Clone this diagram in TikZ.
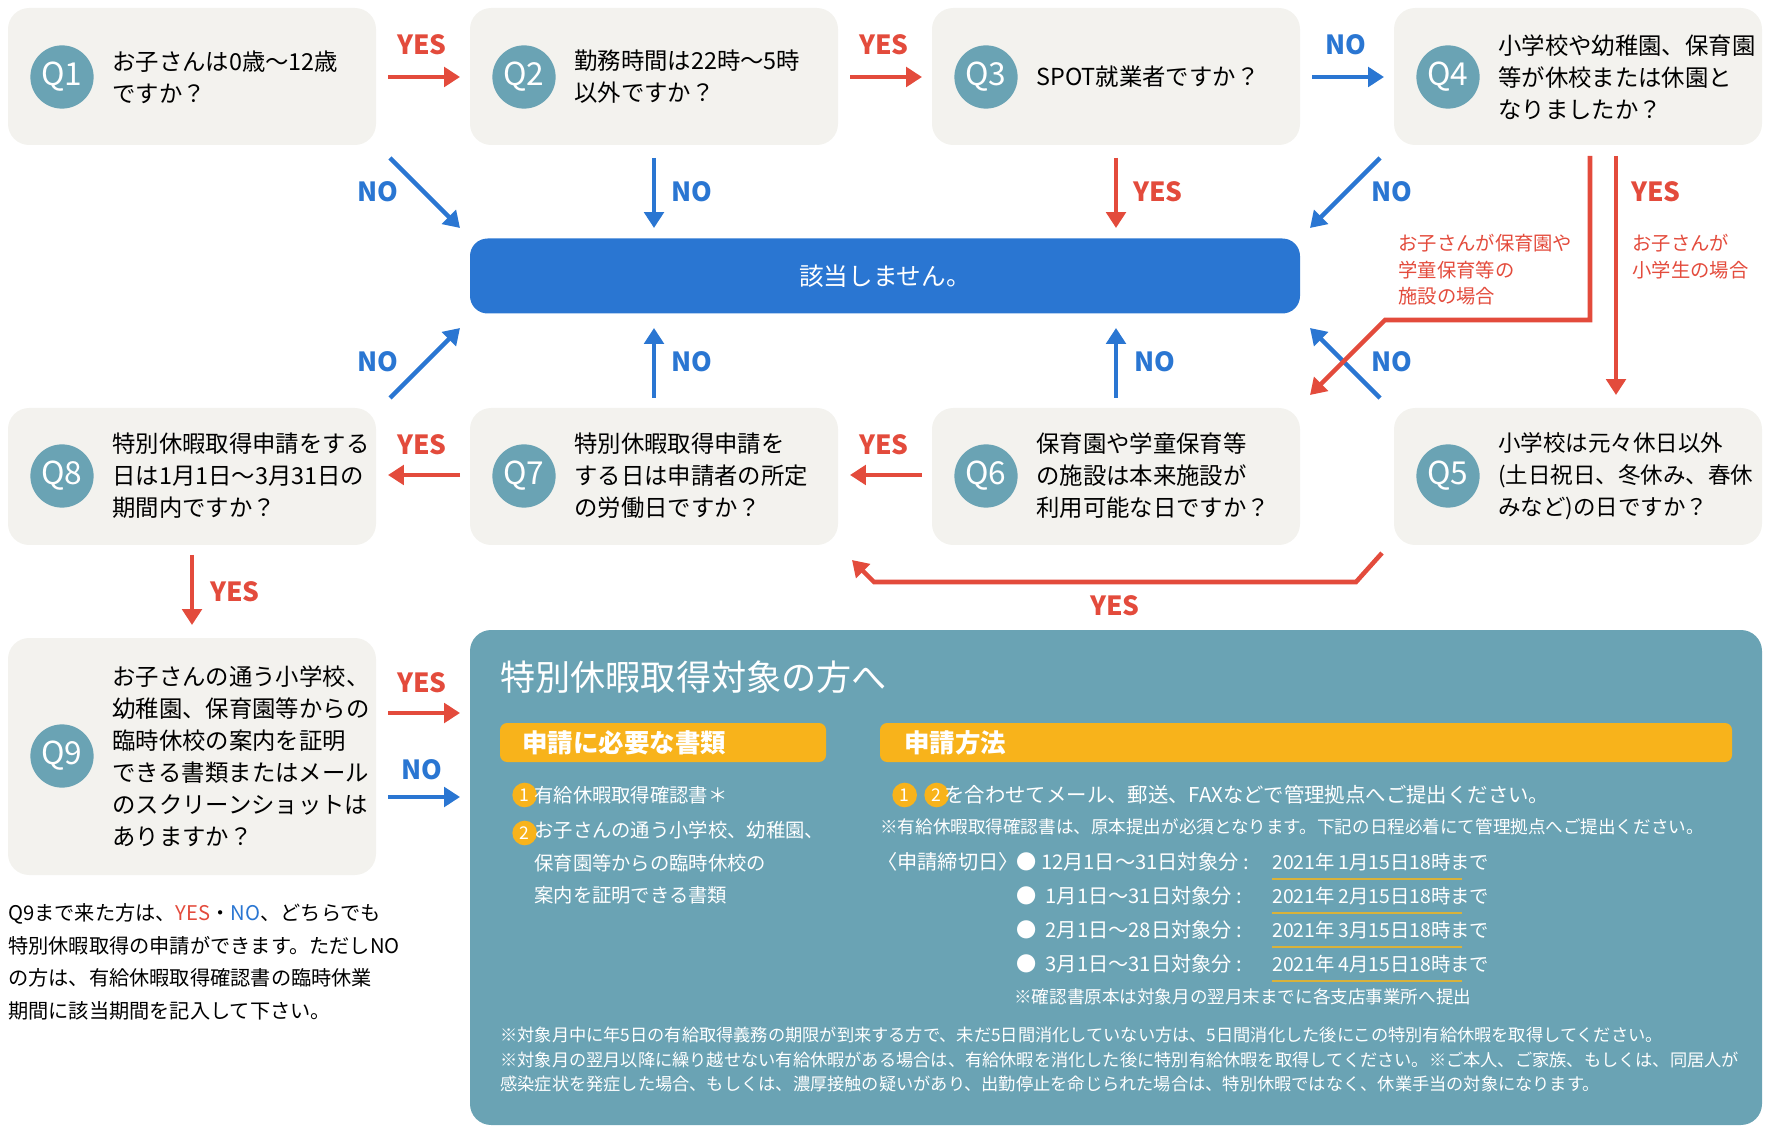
\documentclass[tikz,border=0pt]{standalone}
\usepackage{fontspec}
\setmainfont{Noto Sans CJK JP}
\usetikzlibrary{arrows.meta,positioning}
\definecolor{qred}{HTML}{E34B3C}
\definecolor{qblue}{HTML}{2A76D2}
\definecolor{qgray}{HTML}{F3F2EE}
\definecolor{qteal}{HTML}{6AA3B4}
\definecolor{qorange}{HTML}{F8B31B}
\definecolor{qgold}{HTML}{D9B23A}
\tikzset{
  qbox/.style={fill=qgray, rounded corners=12pt},
  qcirc/.style={circle, fill=qteal, minimum size=36pt, inner sep=0pt, text=white, font=\fontsize{18}{18}\selectfont},
  qtext/.style={anchor=west, align=left, inner sep=0pt, font=\fontsize{13.3}{18.2}\selectfont},
  yesarrow/.style={line width=2.6pt, qred, -{Triangle[length=9pt,width=11pt]}},
  noarrow/.style={line width=2.6pt, qblue, -{Triangle[length=9pt,width=11pt]}},
  yeslabel/.style={text=qred, font=\fontsize{15}{15}\bfseries\selectfont},
  nolabel/.style={text=qblue, font=\fontsize{15}{15}\bfseries\selectfont},
  numcirc/.style={circle, fill=qorange, text=white, inner sep=0pt, minimum size=14pt, font=\fontsize{10}{10}\selectfont}
}
\begin{document}
\begin{tikzpicture}[x=0.02cm, y=-0.02cm]
\useasboundingbox (0,0) rectangle (1768,1131);
%%%%% Boxes %%%%%
\foreach \n/\x/\y in {1/8/8, 2/470/8, 3/932/8, 4/1394/8, 8/8/408, 7/470/408, 6/932/408, 5/1394/408}
  \fill[qbox] (\x,\y) rectangle ++(368,137);
\fill[qbox] (8,638) rectangle (376,875);
\node[qcirc] (q1) at (62,77) {Q1};
\node[qcirc] (q2) at (524,77) {Q2};
\node[qcirc] (q3) at (986,77) {Q3};
\node[qcirc] (q4) at (1448,77) {Q4};
\node[qcirc] (q8) at (62,476) {Q8};
\node[qcirc] (q7) at (524,476) {Q7};
\node[qcirc] (q6) at (986,476) {Q6};
\node[qcirc] (q5) at (1448,476) {Q5};
\node[qcirc] (q9) at (62,756) {Q9};
\node[qtext] (t1) at (112,77) {お子さんは0歳～12歳\\ですか？};
\node[qtext] (t2) at (574,77) {勤務時間は22時～5時\\以外ですか？};
\node[qtext] (t3) at (1036,77) {SPOT就業者ですか？};
\node[qtext] (t4) at (1498,77) {小学校や幼稚園、保育園\\等が休校または休園と\\なりましたか？};
\node[qtext] (t8) at (112,476) {特別休暇取得申請をする\\日は1月1日～3月31日の\\期間内ですか？};
\node[qtext] (t7) at (574,476) {特別休暇取得申請を\\する日は申請者の所定\\の労働日ですか？};
\node[qtext] (t6) at (1036,476) {保育園や学童保育等\\の施設は本来施設が\\利用可能な日ですか？};
\node[qtext, font=\fontsize{12.8}{18.2}\selectfont] (t5) at (1498,476) {小学校は元々休日以外\\(土日祝日、冬休み、春休\\みなど)の日ですか？};
\node[qtext] (t9) at (112,756) {お子さんの通う小学校、\\幼稚園、保育園等からの\\臨時休校の案内を証明\\できる書類またはメール\\のスクリーンショットは\\ありますか？};
%%%%% Bar %%%%%
\node[fill=qblue, rounded corners=10pt, minimum width=830*0.02cm, minimum height=75*0.02cm, text=white,
  font=\fontsize{14}{14}\selectfont] (bar) at (885,276) {該当しません。};
%%%%% Arrows row 1 %%%%%
\draw[yesarrow] (388,77) -- (460,77);  \node[yeslabel] at (422,45) {YES};
\draw[yesarrow] (850,77) -- (922,77);  \node[yeslabel] at (884,45) {YES};
\draw[noarrow] (1312,77) -- (1384,77); \node[nolabel] at (1346,45) {NO};
\draw[noarrow] (390,158) -- (460,228); \node[nolabel] at (378,192) {NO};
\draw[noarrow] (654,158) -- (654,228); \node[nolabel] at (692,192) {NO};
\draw[yesarrow] (1116,158) -- (1116,228); \node[yeslabel] at (1158,192) {YES};
\draw[noarrow] (1380,158) -- (1310,228); \node[nolabel] at (1392,192) {NO};
%%%%% Arrows row 2 %%%%%
\draw[noarrow] (390,398) -- (460,328); \node[nolabel] at (378,362) {NO};
\draw[noarrow] (654,398) -- (654,328); \node[nolabel] at (692,362) {NO};
\draw[noarrow] (1116,398) -- (1116,328); \node[nolabel] at (1155,362) {NO};
\draw[noarrow] (1380,398) -- (1310,328); \node[nolabel] at (1392,362) {NO};
\draw[yesarrow] (1590,156) -- (1590,320) -- (1385,320) -- (1310,395);
\draw[yesarrow] (1616,156) -- (1616,395); \node[yeslabel] at (1656,192) {YES};
\node[text=qred, anchor=north west, align=left, inner sep=0pt, font=\fontsize{11}{15}\selectfont] (c1) at (1398,234) {お子さんが保育園や\\学童保育等の\\施設の場合};
\node[text=qred, anchor=north west, align=left, inner sep=0pt, font=\fontsize{11}{15}\selectfont] (c2) at (1632,234) {お子さんが\\小学生の場合};
\draw[yesarrow] (460,475) -- (388,475); \node[yeslabel] at (422,445) {YES};
\draw[yesarrow] (922,475) -- (850,475); \node[yeslabel] at (884,445) {YES};
\draw[yesarrow] (1382,553) -- (1356,582) -- (874,582) -- (852,560); \node[yeslabel] at (1115,606) {YES};
\draw[yesarrow] (192,555) -- (192,625); \node[yeslabel] at (235,592) {YES};
\draw[yesarrow] (388,713) -- (460,713); \node[yeslabel] at (422,683) {YES};
\draw[noarrow] (388,797) -- (460,797); \node[nolabel] at (422,770) {NO};
%%%%% Note %%%%%
\node[anchor=north west, align=left, inner sep=0pt, font=\fontsize{11.5}{18.6}\selectfont] (note) at (8,903)
  {Q9まで来た方は、\textcolor{qred}{YES}・\textcolor{qblue}{NO}、どちらでも\\特別休暇取得の申請ができます。ただしNO\\の方は、有給休暇取得確認書の臨時休業\\期間に該当期間を記入して下さい。};
%%%%% Panel %%%%%
\fill[qteal, rounded corners=12pt] (470,630) rectangle (1762,1125);
\node[anchor=west, text=white, inner sep=0pt, font=\fontsize{20}{20}\selectfont] (title) at (500,677) {特別休暇取得対象の方へ};
\fill[qorange, rounded corners=4pt] (500,723) rectangle (826,762);
\fill[qorange, rounded corners=4pt] (880,723) rectangle (1732,762);
\node[anchor=west, text=white, inner sep=0pt, font=\fontsize{14.5}{14.5}\bfseries\selectfont] (h1) at (522,743) {申請に必要な書類};
\node[anchor=west, text=white, inner sep=0pt, font=\fontsize{14.5}{14.5}\bfseries\selectfont] (h2) at (904,743) {申請方法};
\begin{scope}[every node/.style={text=white, inner sep=0pt, anchor=west}]
\node[numcirc] (n1) at (512,795) {1};
\node[font=\fontsize{11}{11}\selectfont] at (534,795) {有給休暇取得確認書＊};
\node[numcirc] (n2) at (512,833) {2};
\node[anchor=north west, align=left, font=\fontsize{11}{18.5}\selectfont] at (534,821) {お子さんの通う小学校、幼稚園、\\保育園等からの臨時休校の\\案内を証明できる書類};
\node[numcirc] (n3) at (892,795) {1};
\node[numcirc] (n4) at (924,795) {2};
\node[font=\fontsize{11.6}{11.6}\selectfont] at (944,795) {を合わせてメール、郵送、FAXなどで管理拠点へご提出ください。};
\node[font=\fontsize{10}{10}\selectfont] at (880,827) {※有給休暇取得確認書は、原本提出が必須となります。下記の日程必着にて管理拠点へご提出ください。};
\node[font=\fontsize{11.5}{11.5}\selectfont] at (877,862) {〈申請締切日〉};
\foreach \y/\a/\b in {862/12月1日～31日/1, 896/\ 1月1日～31日/2, 930/\ 2月1日～28日/3, 964/\ 3月1日～31日/4} {
  \node[font=\fontsize{11.5}{11.5}\selectfont] at (1016,\y) {● \a 対象分 :};
  \node[font=\fontsize{11}{11}\selectfont] at (1272,\y) {2021年 \b 月15日18時まで};
  \draw[qgold, line width=1.2pt] (1272,\y+17) -- (1462,\y+17);
}
\node[font=\fontsize{10}{10}\selectfont] at (1014,997) {※確認書原本は対象月の翌月末までに各支店事業所へ提出};
\node[anchor=north west, align=left, font=\fontsize{9.8}{13.8}\selectfont] at (500,1027)
  {※対象月中に年5日の有給取得義務の期限が到来する方で、未だ5日間消化していない方は、5日間消化した後にこの特別有給休暇を取得してください。\\※対象月の翌月以降に繰り越せない有給休暇がある場合は、有給休暇を消化した後に特別有給休暇を取得してください。※ご本人、ご家族、もしくは、同居人が\\感染症状を発症した場合、もしくは、濃厚接触の疑いがあり、出勤停止を命じられた場合は、特別休暇ではなく、休業手当の対象になります。};
\end{scope}
\end{tikzpicture}
\end{document}
